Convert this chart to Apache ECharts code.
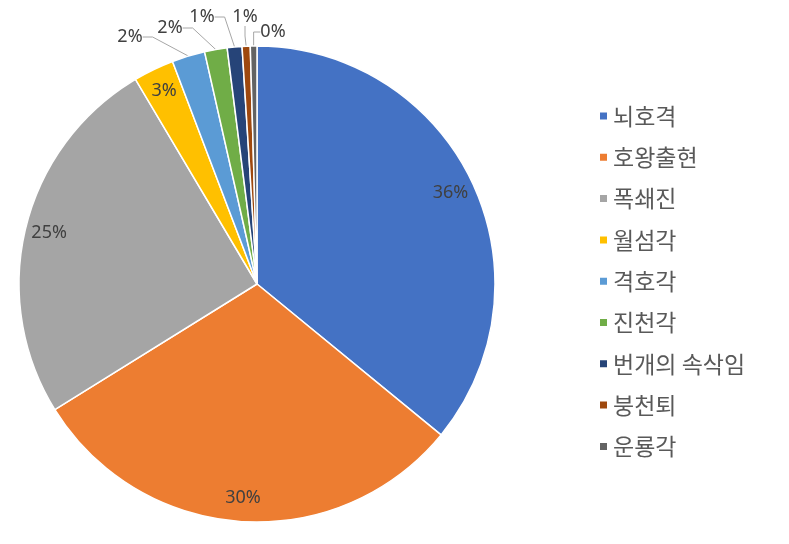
<!DOCTYPE html>
<html>
<head>
<meta charset="utf-8">
<script src="https://cdn.jsdelivr.net/npm/echarts/dist/echarts.min.js"></script>
<style>
html, body { margin: 0; padding: 0; background: #fff; }
#main { width: 789px; height: 544px; }
</style>
</head>
<body>
<div id="main"></div>
<script>
var names = ['뇌호격', '호왕출현', '폭쇄진', '월섬각', '격호각', '진천각', '번개의 속삭임', '붕천퇴', '운룡각'];
var values = [35.9, 30.2, 25.3, 2.75, 2.24, 1.53, 1.0, 0.55, 0.45];
var colors = ['#4472C4', '#ED7D31', '#A5A5A5', '#FFC000', '#5B9BD5', '#70AD47', '#264478', '#9E480E', '#636363'];

// first slices get their label inside, the thin ones get a leader line
var insideCount = 4;
// spots for the thin slice labels (Excel placed them by hand)
var outsideLabelPos = [[130, 37], [170, 28], [202, 17], [245, 17], [273, 32]];

var pieCenter = [257, 284];
var pieRadius = 238;
var labelRadius = 211;

function pct(p) {
	return Math.round(p.percent) + '%';
}

var mainData = names.map(function (n, i) {
	var small = i >= insideCount;
	return {
		name: n,
		value: values[i],
		label: { show: small },
		labelLine: { show: small }
	};
});

// invisible copy, only there so the inside labels sit near the rim
var ghostData = names.map(function (n, i) {
	return {
		name: n,
		value: values[i],
		label: { show: i < insideCount }
	};
});

var chart = echarts.init(document.getElementById('main'));
chart.setOption({
	animation: false,
	color: colors,
	legend: {
		data: names,
		orient: 'vertical',
		left: 598,
		top: 104,
		padding: 0,
		icon: 'rect',
		itemWidth: 9,
		itemHeight: 9,
		itemGap: 17.3,
		selectedMode: false,
		textStyle: {
			fontFamily: 'Noto Sans CJK KR',
			fontSize: 23,
			lineHeight: 24,
			color: '#595959'
		}
	},
	series: [{
		type: 'pie',
		center: pieCenter,
		radius: pieRadius,
		startAngle: 90,
		clockwise: true,
		avoidLabelOverlap: false,
		itemStyle: { borderColor: '#fff', borderWidth: 1.5 },
		emphasis: { disabled: true },
		label: {
			position: 'outside',
			formatter: pct,
			fontFamily: 'Noto Sans',
			fontSize: 18,
			color: '#404040'
		},
		labelLine: {
			length: 10,
			length2: 10,
			lineStyle: { color: '#a6a6a6', width: 1 }
		},
		labelLayout: function (params) {
			var k = params.dataIndex - insideCount;
			if (k < 0) return {};
			return {
				x: outsideLabelPos[k][0],
				y: outsideLabelPos[k][1],
				align: 'center',
				verticalAlign: 'middle'
			};
		},
		data: mainData
	}, {
		type: 'pie',
		center: pieCenter,
		radius: labelRadius * 2,
		startAngle: 90,
		clockwise: true,
		silent: true,
		z: 3,
		avoidLabelOverlap: false,
		itemStyle: { color: 'rgba(0,0,0,0)' },
		emphasis: { disabled: true },
		label: {
			position: 'inner',
			formatter: pct,
			fontFamily: 'Noto Sans',
			fontSize: 18,
			color: '#404040'
		},
		labelLine: { show: false },
		data: ghostData
	}]
});
</script>
</body>
</html>
